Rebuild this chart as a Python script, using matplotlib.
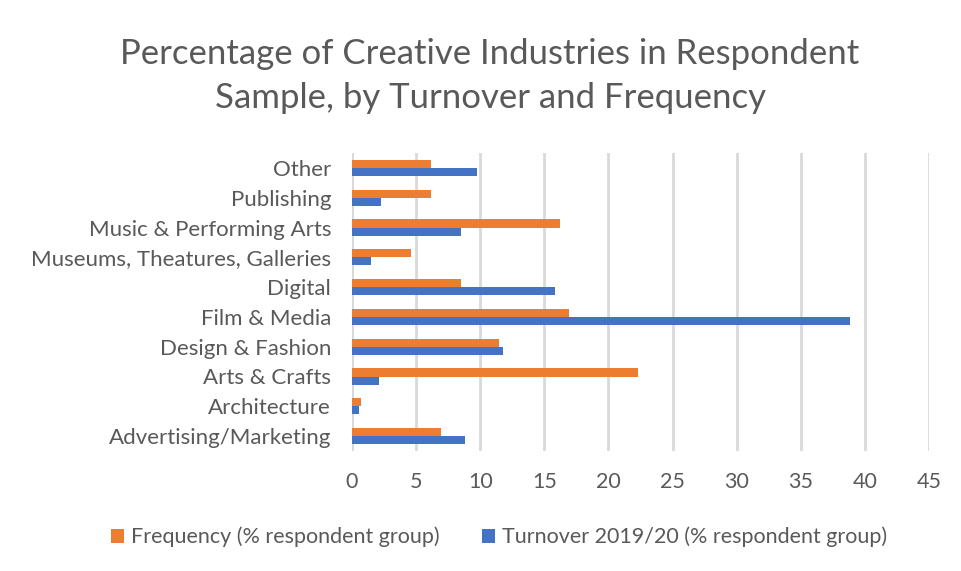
import matplotlib
matplotlib.use("Agg")
import matplotlib.pyplot as plt
import numpy as np

categories = ["Advertising/Marketing", "Architecture", "Arts & Crafts", "Design & Fashion",
              "Film & Media", "Digital", "Museums, Theatures, Galleries",
              "Music & Performing Arts", "Publishing", "Other"]
frequency = [6.95, 0.7, 22.3, 11.5, 16.95, 8.5, 4.6, 16.2, 6.15, 6.15]
turnover = [8.8, 0.55, 2.1, 11.8, 38.8, 15.85, 1.5, 8.5, 2.3, 9.75]
xticks = [0, 5, 10, 15, 20, 25, 30, 35, 40, 45]
series_names = ["Frequency (% respondent group)", "Turnover 2019/20 (% respondent group)"]

plt.rcParams['font.family'] = ['Lato', 'DejaVu Sans']
gray = "#595959"

fig = plt.figure(figsize=(9.61, 5.71), dpi=100)
ax = fig.add_axes([352/961, 1-451/571, (929-352)/961, (451-153)/571])

y = np.arange(len(categories))
h = 0.27
ax.barh(y + h/2, frequency, height=h, color="#ED7D31", label=series_names[0], zorder=3)
ax.barh(y - h/2, turnover, height=h, color="#4472C4", label=series_names[1], zorder=3)

ax.set_xlim(0, 45)
ax.set_ylim(-0.5, len(categories) - 0.5)
ax.set_xticks(xticks)
ax.set_xticklabels([str(t) for t in xticks], fontsize=15.5, color=gray)
ax.set_yticks(y)
ax.set_yticklabels(categories, fontsize=16, color=gray)
ax.tick_params(axis='x', length=0, pad=15)
ax.tick_params(axis='y', length=0, pad=15)
ax.xaxis.grid(True, color="#D9D9D9", linewidth=2, zorder=0)
for s in ax.spines.values():
    s.set_visible(False)
ax.axvline(0, color="#D9D9D9", linewidth=2, zorder=2)

fig.text(490/961, 1-76/571, "Percentage of Creative Industries in Respondent\nSample, by Turnover and Frequency",
         ha="center", va="center", fontsize=25, color=gray, linespacing=1.5)

handles, labels = ax.get_legend_handles_labels()
fig.legend(handles, labels, loc="center", bbox_to_anchor=(499/961, 1-537/571), ncol=2,
           frameon=False, fontsize=15.5, labelcolor=gray, handlelength=0.6, handleheight=0.6,
           handletextpad=0.3, columnspacing=2.0)

fig.savefig("out.png", dpi=100)
